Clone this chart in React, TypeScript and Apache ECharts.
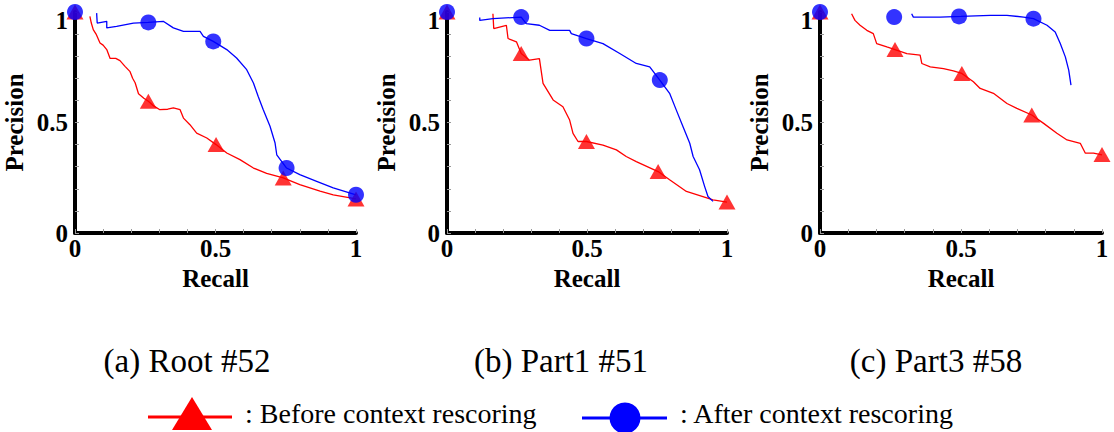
import React, { useEffect, useRef } from "react";
import * as echarts from "echarts";

const captions = ["(a) Root #52", "(b) Part1 #51", "(c) Part3 #58"];
const legendLabels = [": Before context rescoring", ": After context rescoring"];
const axisTickValues = [0, 0.5, 1];

// Panel (a) Root #52
const rootBefore: number[][] = [
  [0.053, 0.98], [0.058, 0.95], [0.065, 0.92], [0.075, 0.9], [0.089, 0.86], [0.1, 0.85], [0.113, 0.83],
  [0.125, 0.79], [0.145, 0.79], [0.16, 0.78], [0.178, 0.754], [0.196, 0.73], [0.205, 0.7],
  [0.214, 0.68], [0.226, 0.63], [0.245, 0.61], [0.261, 0.596], [0.28, 0.575], [0.302, 0.558],
  [0.33, 0.56], [0.35, 0.566], [0.374, 0.558], [0.386, 0.52], [0.409, 0.49], [0.433, 0.452],
  [0.469, 0.43], [0.502, 0.4], [0.54, 0.362], [0.587, 0.332], [0.635, 0.294], [0.682, 0.27],
  [0.741, 0.249], [0.8, 0.219], [0.872, 0.189], [0.919, 0.173], [1.0, 0.154],
];
const rootAfter: number[][] = [
  [0.077, 0.995], [0.079, 0.95], [0.113, 0.958], [0.113, 0.928], [0.148, 0.935], [0.208, 0.95],
  [0.261, 0.953], [0.314, 0.958], [0.35, 0.928], [0.386, 0.912], [0.445, 0.912], [0.457, 0.89],
  [0.492, 0.867], [0.54, 0.83], [0.575, 0.792], [0.611, 0.739], [0.635, 0.679], [0.652, 0.618],
  [0.67, 0.558], [0.694, 0.483], [0.712, 0.407], [0.718, 0.354], [0.753, 0.294], [0.8, 0.264],
  [0.86, 0.234], [0.919, 0.204], [1.0, 0.173],
];
const rootBeforeMarks: number[][] = [[0, 1], [0.261, 0.596], [0.502, 0.4], [0.741, 0.249], [1.0, 0.154]];
const rootAfterMarks: number[][] = [[0, 1], [0.261, 0.953], [0.492, 0.867], [0.753, 0.294], [1.0, 0.173]];

// Panel (b) Part1 #51
const part1Before: number[][] = [
  [0.164, 0.992], [0.167, 0.925], [0.212, 0.94], [0.218, 0.88], [0.248, 0.865], [0.265, 0.812],
  [0.295, 0.782], [0.33, 0.789], [0.343, 0.677], [0.379, 0.602], [0.414, 0.571], [0.438, 0.511],
  [0.45, 0.451], [0.468, 0.414], [0.498, 0.414], [0.557, 0.398], [0.605, 0.376], [0.64, 0.346],
  [0.676, 0.323], [0.754, 0.278], [0.795, 0.241], [0.855, 0.188], [0.914, 0.165], [0.95, 0.15],
  [1.0, 0.14],
];
const part1After: number[][] = [
  [0.117, 0.975], [0.117, 0.962], [0.164, 0.97], [0.265, 0.977], [0.283, 0.947], [0.33, 0.94],
  [0.367, 0.917], [0.438, 0.917], [0.444, 0.902], [0.498, 0.88], [0.557, 0.857], [0.617, 0.812],
  [0.676, 0.767], [0.724, 0.752], [0.76, 0.692], [0.795, 0.632], [0.819, 0.556], [0.843, 0.481],
  [0.867, 0.406], [0.879, 0.346], [0.902, 0.286], [0.92, 0.211], [0.932, 0.165], [0.95, 0.143],
];
const part1BeforeMarks: number[][] = [[0, 1], [0.265, 0.812], [0.498, 0.414], [0.754, 0.278], [1.0, 0.14]];
const part1AfterMarks: number[][] = [[0, 1], [0.265, 0.977], [0.498, 0.88], [0.76, 0.692]];

// Panel (c) Part3 #58
const part3Before: number[][] = [
  [0.112, 0.992], [0.124, 0.962], [0.142, 0.94], [0.166, 0.917], [0.189, 0.902], [0.201, 0.857],
  [0.237, 0.842], [0.266, 0.83], [0.308, 0.812], [0.355, 0.805], [0.361, 0.767], [0.391, 0.752],
  [0.438, 0.744], [0.473, 0.734], [0.503, 0.722], [0.544, 0.684], [0.568, 0.654], [0.615, 0.632],
  [0.663, 0.586], [0.698, 0.564], [0.751, 0.534], [0.793, 0.496], [0.84, 0.451], [0.876, 0.421],
  [0.923, 0.406], [0.941, 0.361], [0.97, 0.361], [1.0, 0.353],
];
const part3After: number[][] = [
  [0.325, 0.992], [0.331, 0.977], [0.426, 0.977], [0.5, 0.98], [0.604, 0.985], [0.663, 0.985],
  [0.722, 0.977], [0.757, 0.97], [0.805, 0.94], [0.834, 0.91], [0.852, 0.857], [0.87, 0.797],
  [0.882, 0.737], [0.89, 0.669],
];
const part3BeforeMarks: number[][] = [[0, 1], [0.266, 0.83], [0.503, 0.722], [0.751, 0.534], [1.0, 0.355]];
const part3AfterMarks: number[][] = [[0, 1], [0.263, 0.977], [0.493, 0.98], [0.757, 0.97]];

const beforeCurves = [rootBefore, part1Before, part3Before];
const afterCurves = [rootAfter, part1After, part3After];
const beforeMarks = [rootBeforeMarks, part1BeforeMarks, part3BeforeMarks];
const afterMarks = [rootAfterMarks, part1AfterMarks, part3AfterMarks];

const RED = "#ff0000";
const BLUE = "#0000ff";
const SERIF = "Liberation Serif";

const gridLefts = [75, 447, 820];
const gridWidths = [281, 280, 282];
const captionCenters = [187, 561, 936];

export default function App() {
  const ref = useRef<HTMLDivElement>(null);

  useEffect(() => {
    if (!ref.current) return;
    const chart = echarts.init(ref.current, undefined, { renderer: "svg" });

    const grids = gridLefts.map((l, i) => ({ left: l, top: 12, width: gridWidths[i], height: 221 }));

    const tickFont = {
      fontFamily: SERIF,
      fontWeight: "bold" as const,
      fontSize: 25,
      color: "#000",
    };
    const nameFont = {
      fontFamily: SERIF,
      fontWeight: "bold" as const,
      fontSize: 25,
      color: "#000",
    };

    const xAxes = grids.map((_, i) => ({
      type: "value",
      gridIndex: i,
      min: 0,
      max: 1,
      interval: 0.5,
      name: "Recall",
      nameLocation: "middle",
      nameGap: 30,
      nameTextStyle: nameFont,
      axisLine: { show: true, lineStyle: { color: "#000", width: 4 } },
      axisTick: { show: true, inside: true, length: 4, lineStyle: { color: "#999", width: 1 } },
      minorTick: { show: true, splitNumber: 5, length: 4, lineStyle: { color: "#999", width: 1 } },
      splitLine: { show: false },
      axisLabel: {
        ...tickFont,
        margin: 3,
        formatter: (v: number) => (axisTickValues.includes(v) ? String(v) : ""),
      },
    }));

    const yAxes = grids.map((_, i) => ({
      type: "value",
      gridIndex: i,
      min: 0,
      max: 1,
      interval: 0.5,
      name: "Precision",
      nameLocation: "middle",
      nameGap: 48,
      nameTextStyle: nameFont,
      axisLine: { show: true, lineStyle: { color: "#000", width: 4 } },
      axisTick: { show: true, inside: true, length: 4, lineStyle: { color: "#999", width: 1 } },
      minorTick: { show: true, splitNumber: 5, length: 4, lineStyle: { color: "#999", width: 1 } },
      splitLine: { show: false },
      axisLabel: {
        ...tickFont,
        margin: 7,
        formatter: (v: number) =>
          v === 1 ? "{top|1}" : axisTickValues.includes(v) ? String(v) : "",
        rich: {
          top: { ...tickFont, padding: [16, 0, 0, 0] },
        },
      },
    }));

    const series: any[] = [];
    for (let i = 0; i < 3; i++) {
      series.push({
        type: "line",
        xAxisIndex: i,
        yAxisIndex: i,
        data: beforeCurves[i],
        symbol: "none",
        clip: false,
        lineStyle: { color: RED, width: 1.3 },
        z: 2,
      });
      series.push({
        type: "line",
        xAxisIndex: i,
        yAxisIndex: i,
        data: afterCurves[i],
        symbol: "none",
        clip: false,
        lineStyle: { color: BLUE, width: 1.3 },
        z: 2,
      });
      series.push({
        type: "scatter",
        xAxisIndex: i,
        yAxisIndex: i,
        data: beforeMarks[i],
        symbol: "triangle",
        symbolSize: [17, 15],
        clip: false,
        itemStyle: { color: RED },
        z: 3,
      });
      series.push({
        type: "scatter",
        xAxisIndex: i,
        yAxisIndex: i,
        data: afterMarks[i],
        symbol: "circle",
        symbolSize: 16,
        clip: false,
        itemStyle: { color: BLUE },
        z: 4,
      });
    }

    const captionText = captions.map((c, i) => ({
      type: "text",
      x: captionCenters[i],
      y: 361,
      style: {
        text: c,
        fontFamily: SERIF,
        fontSize: 33,
        fill: "#000",
        textAlign: "center",
        textVerticalAlign: "middle",
      },
    }));

    const legendGraphics = [
      { type: "line", shape: { x1: 148, y1: 417, x2: 232, y2: 417 }, style: { stroke: RED, lineWidth: 3 } },
      {
        type: "polygon",
        shape: { points: [[192, 397], [172, 430], [212, 430]] },
        style: { fill: RED },
      },
      {
        type: "text",
        x: 245,
        y: 413,
        style: {
          text: legendLabels[0],
          fontFamily: SERIF,
          fontSize: 28,
          fill: "#000",
          textAlign: "left",
          textVerticalAlign: "middle",
        },
      },
      { type: "line", shape: { x1: 582, y1: 418, x2: 667, y2: 418 }, style: { stroke: BLUE, lineWidth: 3 } },
      { type: "circle", shape: { cx: 625, cy: 418, r: 15.5 }, style: { fill: BLUE } },
      {
        type: "text",
        x: 680,
        y: 413,
        style: {
          text: legendLabels[1],
          fontFamily: SERIF,
          fontSize: 28,
          fill: "#000",
          textAlign: "left",
          textVerticalAlign: "middle",
        },
      },
    ];

    chart.setOption({
      animation: false,
      backgroundColor: "#fff",
      grid: grids,
      xAxis: xAxes,
      yAxis: yAxes,
      series,
      graphic: [...captionText, ...legendGraphics],
    });

    return () => chart.dispose();
  }, []);

  return (
    <div
      ref={ref}
      style={{ position: "fixed", left: 0, top: 0, width: 1114, height: 432, background: "#fff" }}
    />
  );
}
